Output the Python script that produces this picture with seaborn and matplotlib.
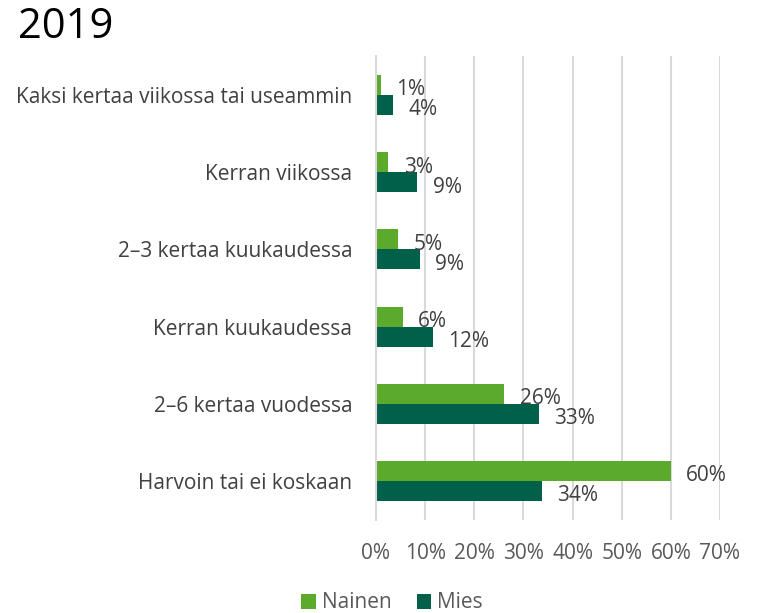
import pandas as pd
import matplotlib.pyplot as plt
import seaborn as sns
from matplotlib.patches import Patch

# Data (percent)
categories = [
    "Kaksi kertaa viikossa tai useammin",
    "Kerran viikossa",
    "2–3 kertaa kuukaudessa",
    "Kerran kuukaudessa",
    "2–6 kertaa vuodessa",
    "Harvoin tai ei koskaan",
]
nainen = [1.0, 2.5, 4.5, 5.4, 26.1, 60.0]
mies = [3.5, 8.4, 8.9, 11.5, 33.2, 33.8]
nainen_labels = ["1%", "3%", "5%", "6%", "26%", "60%"]
mies_labels = ["4%", "9%", "9%", "12%", "33%", "34%"]
xticks = [0, 10, 20, 30, 40, 50, 60, 70]
series = ["Nainen", "Mies"]
colors = ["#5BAA2B", "#00604A"]

df = pd.DataFrame({
    "kategoria": categories * 2,
    "arvo": nainen + mies,
    "sukupuoli": [series[0]] * len(categories) + [series[1]] * len(categories),
})

sns.set_style("white")
plt.rcParams["font.family"] = ["Open Sans", "DejaVu Sans"]

fig = plt.figure(figsize=(7.59, 6.13), dpi=100)
ax = fig.add_axes([376 / 759, 1 - 519.6 / 613, 344 / 759, 463.2 / 613])

sns.barplot(data=df, y="kategoria", x="arvo", hue="sukupuoli", orient="h",
            palette=colors, width=0.52, ax=ax, legend=False,
            linewidth=0, saturation=1)

# value labels, nudged a bit down like in the original
for cont, labs in zip(ax.containers, [nainen_labels, mies_labels]):
    texts = ax.bar_label(cont, labels=labs, padding=11, fontsize=15, color="#404040")
    for t in texts:
        dx, dy = t.xyann
        t.xyann = (dx, dy - 3.5)

ax.set_xlim(0, 70)
ax.set_xticks(xticks)
ax.set_xticklabels([f"{t}%" for t in xticks], fontsize=15, color="#595959")
ax.tick_params(axis="y", labelsize=15, labelcolor="#404040", length=0, pad=17)
ax.tick_params(axis="x", length=0, pad=17)
ax.set_xlabel("")
ax.set_ylabel("")
ax.grid(axis="x", color="#d9d9d9", linewidth=1.5)
ax.set_axisbelow(True)
for s in ["top", "right", "bottom"]:
    ax.spines[s].set_visible(False)
ax.spines["left"].set_color("#d9d9d9")
ax.spines["left"].set_linewidth(1.5)

fig.text(18 / 759, 1 - 27 / 613, "2019", fontsize=30, va="center", ha="left", color="black")

handles = [Patch(facecolor=c, edgecolor="none") for c in colors]
fig.legend(handles, series, loc="center", bbox_to_anchor=(392 / 759, 1 - 603 / 613),
           ncol=2, frameon=False, fontsize=15, handlelength=0.7, handleheight=0.7,
           handletextpad=0.3, columnspacing=1.2, labelcolor="#595959")

fig.savefig("out.png", dpi=100)
